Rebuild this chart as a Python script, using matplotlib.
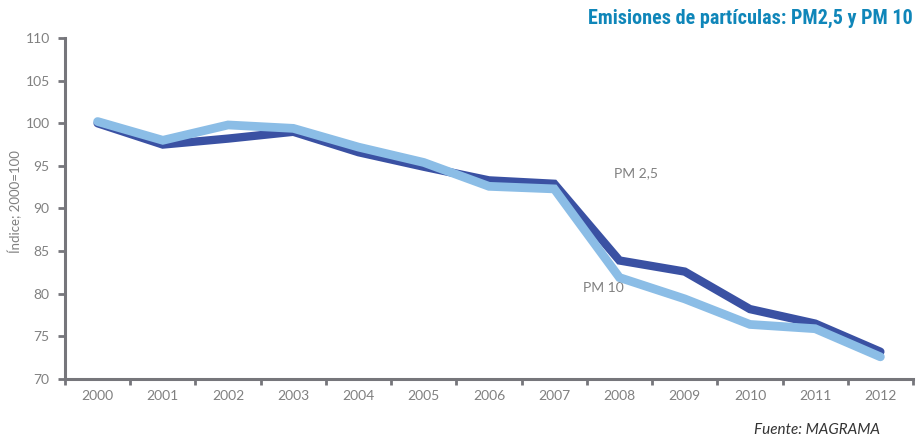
import matplotlib
matplotlib.use("Agg")
import matplotlib.pyplot as plt
import numpy as np

years = ["2000", "2001", "2002", "2003", "2004", "2005", "2006",
         "2007", "2008", "2009", "2010", "2011", "2012"]
pm25 = [100.0, 97.5, 98.2, 99.0, 96.6, 94.9, 93.3, 92.9, 83.9, 82.6, 78.2, 76.5, 73.2]
pm10 = [100.2, 98.0, 99.8, 99.4, 97.2, 95.4, 92.6, 92.3, 81.9, 79.4, 76.4, 75.9, 72.6]
yticks = [70, 75, 80, 85, 90, 95, 100, 105, 110]

plt.rcParams['font.family'] = ['Lato', 'DejaVu Sans']

fig = plt.figure(figsize=(9.19, 4.40), dpi=100)
ax = fig.add_axes([65/919, 1-379/440, (913-65)/919, (379-38)/440])

x = np.arange(len(years))
ax.plot(x, pm25, color="#3a51a3", lw=6.0, solid_capstyle="round", solid_joinstyle="miter", zorder=3)
ax.plot(x, pm10, color="#8bbde6", lw=6.3, solid_capstyle="round", solid_joinstyle="miter", zorder=4)

ax.set_xlim(-0.5, len(years) - 0.5)
ax.set_ylim(70, 110)
ax.set_yticks(yticks)
ax.set_yticklabels([str(v) for v in yticks])
ax.set_xticks(x)
ax.set_xticklabels(years)
ax.set_xticks(np.arange(-0.5, len(years), 1.0), minor=True)

gray = "#808080"
spine_c = "#76767b"
for s in ["top", "right"]:
    ax.spines[s].set_visible(False)
for s in ["left", "bottom"]:
    ax.spines[s].set_color(spine_c)
    ax.spines[s].set_linewidth(2.2)

ax.tick_params(axis="y", which="major", length=5, width=2, color=spine_c,
               labelsize=10, labelcolor=gray, pad=6)
ax.tick_params(axis="x", which="major", length=0, labelsize=10, labelcolor=gray, pad=8)
ax.tick_params(axis="x", which="minor", length=4, width=2, color=spine_c)

ax.set_ylabel("Índice; 2000=100", fontsize=9.5, color=gray)
ax.yaxis.set_label_coords((22-65)/848, 0.52)

ax.text(8.26, 94.2, "PM 2,5", fontsize=10, color=gray, ha="center", va="center")
ax.text(7.75, 80.7, "PM 10", fontsize=10, color=gray, ha="center", va="center")

fig.text(913/919, 1-18/440, "Emisiones de partículas: PM2,5 y PM 10",
         fontsize=14.5, fontweight="bold", color="#0f86b9", ha="right", va="center",
         family=["Roboto Condensed", "Roboto"], fontstretch="condensed")
fig.text(880/919, 1-430/440, "Fuente: MAGRAMA", fontsize=11, style="italic",
         color="#333333", ha="right", va="center")

fig.savefig("out.png", dpi=100)
